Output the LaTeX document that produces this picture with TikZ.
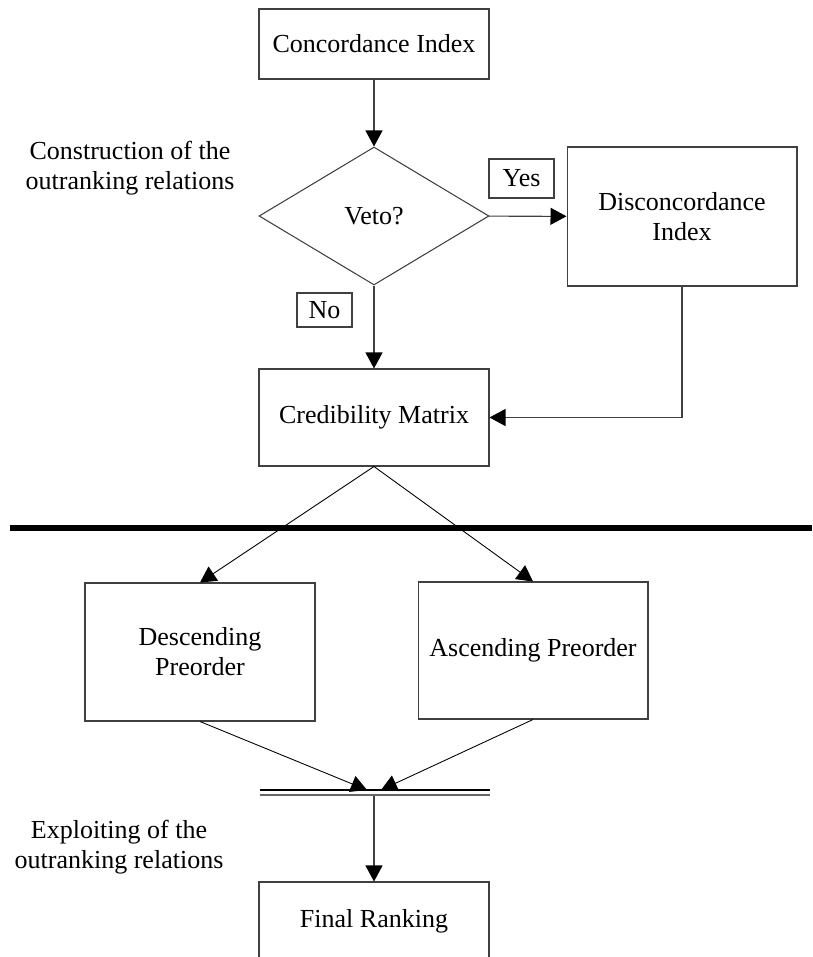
\documentclass[tikz,border=0pt]{standalone}
\usepackage{fontspec}
\setmainfont{Liberation Serif}
\usetikzlibrary{arrows.meta,shapes.geometric}

\tikzset{
	blk/.style={draw=black!75, line width=0.6pt, minimum width=4.6cm, align=center, inner sep=0pt},
	tag/.style={draw=black!75, line width=0.6pt, inner sep=0pt},
	note/.style={align=center},
}

\begin{document}
\begin{tikzpicture}[x=0.02cm,y=-0.02cm,font=\fontsize{14.8}{17}\selectfont,
	>={Triangle[length=0.32cm,width=0.34cm,color=black,fill=black]}]
		\useasboundingbox (0,0) rectangle (812,957);
		%
		\node[blk,minimum height=1.4cm] (CI) at (374,44) {Concordance Index};
		\node[draw=black!75,line width=0.6pt,diamond,inner sep=0pt,
			minimum width=4.6cm,minimum height=2.76cm] (V) at (374,216) {Veto?};
		\node[blk,minimum height=2.78cm] (DI) at (682,216.5) {Disconcordance\\Index};
		\node[blk,minimum height=1.94cm] (CM) at (374,417.5) {Credibility Matrix};
		\node[blk,minimum height=2.76cm] (DP) at (200,652) {Descending\\Preorder};
		\node[blk,minimum height=2.74cm] (AP) at (533,650.5) {Ascending Preorder};
		\node[blk,minimum height=1.56cm] (FR) at (374,921) {Final Ranking};
		%
		\node[tag,minimum width=1.3cm,minimum height=0.78cm] (yes) at (521.5,178.5) {Yes};
		\node[tag,minimum width=1.1cm,minimum height=0.68cm] (no) at (324.5,310) {No};
		%
		\node[note] (con) at (130,168) {Construction of the\\outranking relations};
		\node[note] (exp) at (119,847) {Exploiting of the\\outranking relations};
		%
		\coordinate (sepW) at (10,528);
		\coordinate (sepE) at (812,528);
		\coordinate (barW) at (260,790);
		\coordinate (barE) at (490,790);
		\coordinate (barW') at (260,795);
		\coordinate (barE') at (490,795);
		\coordinate (barS) at (374,795);
		\coordinate (mL) at (367,790);
		\coordinate (mR) at (381,790);
		%
		\path[->,black!75,line width=0.6pt]
		(CI) edge (V)
		(V) edge (DI)
		(V) edge (CM)
		(DI) edge[to path={|- (\tikztotarget)}] (CM)
		(barS) edge (FR);
		%
		\path[->,black,line width=0.5pt]
		(CM.south) edge (DP.north)
		(CM.south) edge (AP.north)
		(DP.south) edge (mL)
		(AP.south) edge (mR);
		%
		\draw[line width=3.6pt] (sepW) -- (sepE);
		\draw[line width=0.6pt] (barW) -- (barE);
		\draw[black!60,line width=0.6pt] (barW') -- (barE');
\end{tikzpicture}
\end{document}
